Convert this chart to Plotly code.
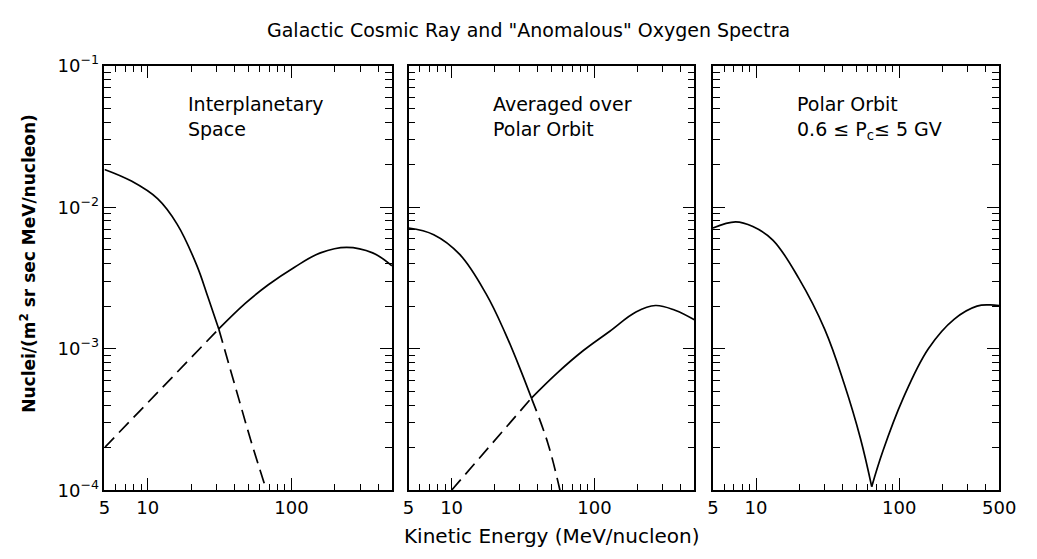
import math
import plotly.graph_objects as go

W, H = 1037, 559

# ---------------- data ----------------
TITLE = 'Galactic Cosmic Ray and "Anomalous" Oxygen Spectra'
X_TITLE = "Kinetic Energy (MeV/nucleon)"
Y_TITLE = "Nuclei/(m<sup>2</sup> sr sec MeV/nucleon)"
PANEL_LABELS = ["Interplanetary<br>Space",
                "Averaged over<br>Polar Orbit",
                "Polar Orbit<br>0.6 \u2264 P<sub>c</sub>\u2264 5 GV"]

E_RANGE = [5, 500]
F_RANGE = [1e-4, 1e-1]

x_label_vals = [5, 10, 100, 500]
x_label_text = ["5", "10", "100", "500"]
x_minor_vals = [6, 7, 8, 9, 20, 30, 40, 50, 60, 70, 80, 90, 200, 300, 400]
y_label_vals = [1e-4, 1e-3, 1e-2, 1e-1]
y_label_text = ["10<sup>\u22124</sup>", "10<sup>\u22123</sup>",
                "10<sup>\u22122</sup>", "10<sup>\u22121</sup>"]
y_minor_vals = [m * 10 ** d for d in (-4, -3, -2) for m in range(2, 10)]

# Panel 1: interplanetary space
anom_ip_E = [5, 7.7, 11.7, 16.0, 21.9, 26.3, 31.2, 43.2, 53.2, 67]
anom_ip_F = [0.0185, 0.0153, 0.0115, 0.0076, 0.0039, 0.0023,
             0.00138, 4.35e-4, 2.1e-4, 1.0e-4]
gcr_ip_E = [5, 31.2, 47.9, 69, 105, 159, 242, 367, 500]
gcr_ip_F = [2.0e-4, 1.38e-3, 2.1e-3, 2.83e-3, 3.77e-3, 4.76e-3, 5.21e-3,
            4.76e-3, 3.85e-3]
cross_ip = 31.2

# Panel 2: averaged over polar orbit
anom_po_E = [5, 7.5, 11.4, 17.4, 23.8, 30.9, 36.2, 47.1, 57.3]
anom_po_F = [7.13e-3, 6.4e-3, 4.64e-3, 2.45e-3, 1.28e-3, 6.78e-4,
             4.48e-4, 2.16e-4, 1.0e-4]
gcr_po_E = [10, 36.2, 55.2, 84, 128, 195, 267, 366, 500]
gcr_po_F = [1.0e-4, 4.48e-4, 6.78e-4, 9.75e-4, 1.33e-3, 1.82e-3, 2.02e-3,
            1.87e-3, 1.6e-3]
cross_po = 36.2

# Panel 3: polar orbit, 0.6 <= Pc <= 5 GV
low_pc_E = [5, 7.2, 9.5, 13.1, 19.9, 30.2, 41.3, 53.6, 64.3]
low_pc_F = [7.13e-3, 7.87e-3, 7.3e-3, 5.86e-3, 3.14e-3, 1.37e-3, 5.65e-4,
            2.33e-4, 1.06e-4]
high_pc_E = [64.3, 77.1, 105.5, 160, 243, 350, 430, 500]
high_pc_F = [1.06e-4, 1.9e-4, 4.35e-4, 1.0e-3, 1.62e-3, 2.0e-3, 2.04e-3, 2.02e-3]

# ---------------- layout geometry (pixels) ----------------
panel_px = [(100.7, 394.7), (411.7, 704.0), (723.0, 1015.7)]
plot_top, plot_bot = 55.0, 497.7

FONT = "DejaVu Sans"
fig = go.Figure()


def line_trace(E, F, n, dash):
    fig.add_trace(go.Scatter(
        x=E, y=F, xaxis="x" if n == 1 else f"x{n}", yaxis="y" if n == 1 else f"y{n}",
        mode="lines", showlegend=False, hoverinfo="skip",
        line=dict(color="black", width=1.7, dash=dash, shape="spline", smoothing=1.1)))


def split(E, F, cross, below):
    pts = [(e, f) for e, f in zip(E, F) if (e <= cross if below else e >= cross)]
    return [p[0] for p in pts], [p[1] for p in pts]


DASH = "14px,7px"
# panel 1: envelope solid, hidden continuation dashed
e, f = split(anom_ip_E, anom_ip_F, cross_ip, True); line_trace(e, f, 1, "solid")
e, f = split(anom_ip_E, anom_ip_F, cross_ip, False); line_trace(e, f, 1, DASH)
e, f = split(gcr_ip_E, gcr_ip_F, cross_ip, True); line_trace(e, f, 1, DASH)
e, f = split(gcr_ip_E, gcr_ip_F, cross_ip, False); line_trace(e, f, 1, "solid")
# panel 2
e, f = split(anom_po_E, anom_po_F, cross_po, True); line_trace(e, f, 2, "solid")
e, f = split(anom_po_E, anom_po_F, cross_po, False); line_trace(e, f, 2, DASH)
e, f = split(gcr_po_E, gcr_po_F, cross_po, True); line_trace(e, f, 2, DASH)
e, f = split(gcr_po_E, gcr_po_F, cross_po, False); line_trace(e, f, 2, "solid")
# panel 3
line_trace(low_pc_E, low_pc_F, 3, "solid")
line_trace(high_pc_E, high_pc_F, 3, "solid")

layout = dict(
    width=W, height=H, autosize=False,
    margin=dict(l=0, r=0, t=0, b=0, pad=0),
    paper_bgcolor="white", plot_bgcolor="white",
    font=dict(family=FONT, color="black", size=17),
    showlegend=False,
)

xr = [math.log10(E_RANGE[0]), math.log10(E_RANGE[1])]
yr = [math.log10(F_RANGE[0]), math.log10(F_RANGE[1])]

for i, (x0, x1) in enumerate(panel_px, start=1):
    sfx = "" if i == 1 else str(i)
    last = (i == 3)
    xdom = [x0 / W, x1 / W]
    ydom = [1 - plot_bot / H, 1 - plot_top / H]
    layout["xaxis" + sfx] = dict(
        type="log", range=xr, domain=xdom, anchor="y" + sfx,
        showline=True, linecolor="black", linewidth=1.6, mirror="allticks",
        ticks="inside", ticklen=12, tickwidth=1.4, tickcolor="black",
        tickmode="array",
        tickvals=x_label_vals if last else x_label_vals[:3],
        ticktext=x_label_text if last else x_label_text[:3],
        minor=dict(tickmode="array", tickvals=x_minor_vals, ticks="inside",
                   ticklen=6, tickwidth=1.2, tickcolor="black", showgrid=False),
        showgrid=False, zeroline=False, fixedrange=True,
        tickfont=dict(family=FONT, size=18, color="black"),
    )
    layout["yaxis" + sfx] = dict(
        type="log", range=yr, domain=ydom, anchor="x" + sfx,
        showline=True, linecolor="black", linewidth=1.6, mirror="allticks",
        ticks="inside", ticklen=12, tickwidth=1.4, tickcolor="black",
        tickmode="array", tickvals=y_label_vals, ticktext=y_label_text,
        showticklabels=(i == 1),
        minor=dict(tickmode="array", tickvals=y_minor_vals, ticks="inside",
                   ticklen=7, tickwidth=1.2, tickcolor="black", showgrid=False),
        showgrid=False, zeroline=False, fixedrange=True,
        tickfont=dict(family=FONT, size=18, color="black"),
    )

annotations = [
    dict(text=TITLE, x=534 / W, y=1 - 18 / H, xref="paper", yref="paper",
         xanchor="center", yanchor="middle", showarrow=False,
         font=dict(family=FONT, size=19, color="black")),
    dict(text=X_TITLE, x=558 / W, y=1 - 545 / H, xref="paper", yref="paper",
         xanchor="center", yanchor="middle", showarrow=False,
         font=dict(family=FONT, size=20, color="black")),
    dict(text=Y_TITLE, x=23 / W, y=1 - 261 / H, xref="paper", yref="paper",
         xanchor="center", yanchor="middle", showarrow=False, textangle=-90,
         font=dict(family=FONT, size=17, color="black", weight="bold")),
]
label_pos = [(184, 81), (496, 81), (807, 81)]
for txt, (lx, ly) in zip(PANEL_LABELS, label_pos):
    annotations.append(dict(
        text=txt, x=lx / W, y=1 - ly / H, xref="paper", yref="paper",
        xanchor="left", yanchor="top", align="left", showarrow=False,
        font=dict(family=FONT, size=19, color="black")))
layout["annotations"] = annotations

fig.update_layout(**layout)
fig.write_html("out.html")
